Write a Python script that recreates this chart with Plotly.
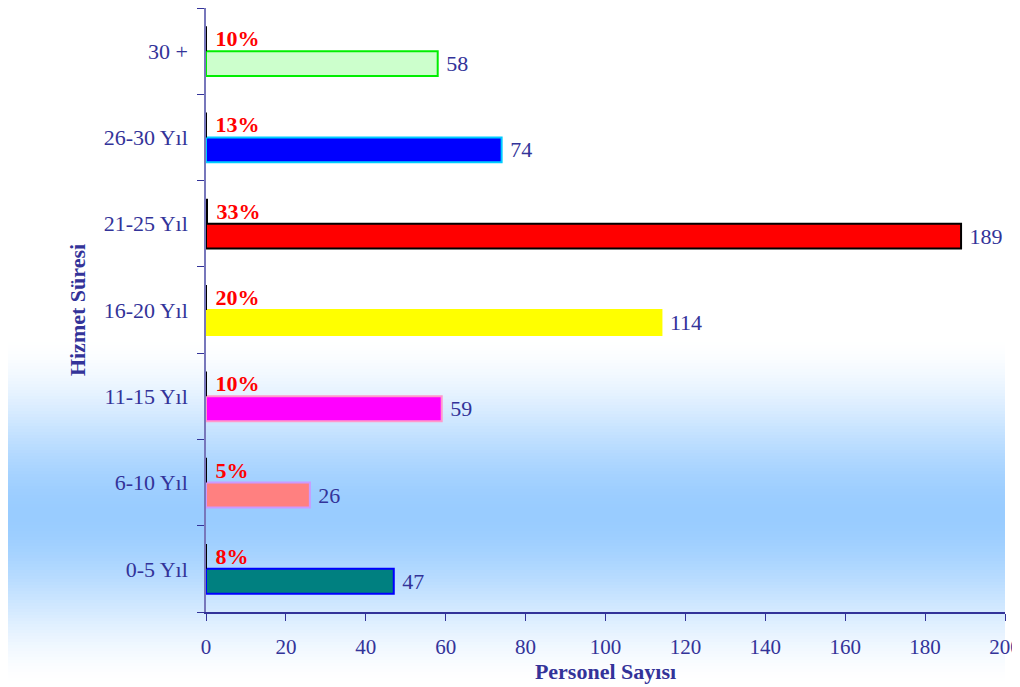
import plotly.graph_objects as go

# data (bottom to top)
categories = ["0-5 Yıl", "6-10 Yıl", "11-15 Yıl", "16-20 Yıl", "21-25 Yıl", "26-30 Yıl", "30 +"]
personel = [47, 26, 59, 114, 189, 74, 58]
oran = [0.08, 0.05, 0.10, 0.20, 0.33, 0.13, 0.10]
oran_text = ["8%", "5%", "10%", "20%", "33%", "13%", "10%"]

fill_colors = ["#008080", "#FF8080", "#FF00FF", "#FFFF00", "#FF0000", "#0000FF", "#CCFFCC"]
line_colors = ["#0000FF", "#CC99FF", "#FF99CC", "#FFFF00", "#000000", "#00CCFF", "#00EE00"]

NAVY = "#333399"
FONT = "Liberation Serif"

fig = go.Figure()
fig.add_trace(go.Bar(
    y=categories, x=personel, orientation="h",
    marker=dict(color=fill_colors, line=dict(color=line_colors, width=2)),
    text=[str(v) for v in personel], texttemplate=" %{text}", textposition="outside",
    textfont=dict(family=FONT, size=22, color=NAVY),
    constraintext="none", cliponaxis=False, showlegend=False,
))
fig.add_trace(go.Bar(
    y=categories, x=oran, orientation="h",
    marker=dict(color="#000000", line=dict(width=0)),
    text=oran_text, texttemplate=" %{text}", textposition="outside",
    textfont=dict(family=FONT, size=22, color="#FF0000", weight="bold"),
    constraintext="none", cliponaxis=False, showlegend=False,
))

# page is offset by the 8px body margin, so work in figure pixels
W, H = 1020, 687
OFF = 8
l, r, t, b = 206 - OFF, W - (1005 - OFF), 0, H - (612 - OFF)
pw, ph = W - l - r, H - t - b

# background gradient band (white -> light blue -> white)
top_px, peak_px, bot_px = 333 - OFF, 513 - OFF, 687
step = 3
for yp in range(top_px, bot_px, step):
    if yp <= peak_px:
        k = (yp - top_px) / (peak_px - top_px)
    else:
        k = max(0.0, (bot_px - OFF - yp) / (bot_px - OFF - peak_px))
    k = k * k * (3 - 2 * k)
    rr = int(round(255 - k * (255 - 0x99)))
    gg = int(round(255 - k * (255 - 0xCC)))
    fig.add_shape(
        type="rect", xref="paper", yref="paper", layer="below",
        x0=(7 - OFF - l) / pw, x1=(1005 - OFF - l) / pw,
        y0=(H - b - (yp + step)) / ph, y1=(H - b - yp) / ph,
        fillcolor=f"rgb({rr},{gg},255)", line=dict(width=0),
    )

fig.update_xaxes(
    range=[0, 200], dtick=20, ticks="outside", ticklen=7, tickcolor=NAVY,
    showline=True, linecolor=NAVY, linewidth=1.5, showgrid=False, zeroline=False,
    tickfont=dict(family=FONT, size=21, color=NAVY), ticklabelstandoff=8,
    title=dict(text="<b>Personel Sayısı</b>", font=dict(family=FONT, size=22, color=NAVY), standoff=2),
)
fig.update_yaxes(
    ticks="outside", ticklen=7, tickcolor=NAVY, tickson="boundaries",
    showline=True, linecolor="#7777BB", linewidth=1.5, showgrid=False, zeroline=False,
    tickfont=dict(family=FONT, size=22, color=NAVY), ticklabelstandoff=12,
    title=dict(text="<b>Hizmet Süresi</b>", font=dict(family=FONT, size=22, color=NAVY), standoff=12),
)
fig.update_layout(
    width=W, height=H, barmode="group", bargap=0.4226, bargroupgap=0,
    margin=dict(l=l, r=r, t=t, b=b, autoexpand=False),
    paper_bgcolor="#FFFFFF", plot_bgcolor="rgba(0,0,0,0)",
    showlegend=False,
)
fig.write_html("out.html")
